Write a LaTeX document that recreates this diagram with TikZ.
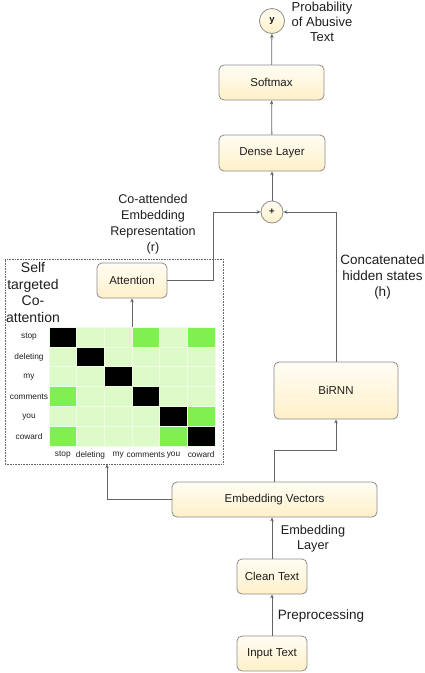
\documentclass[tikz,border=0pt]{standalone}
\usepackage{fontspec}
\setmainfont{Liberation Sans}
\usetikzlibrary{arrows.meta,shapes.geometric}
\definecolor{lc}{RGB}{100,100,100}
\definecolor{bd}{RGB}{140,140,140}
\definecolor{tx}{RGB}{30,30,30}
\definecolor{mK}{RGB}{0,0,0}
\definecolor{mL}{RGB}{221,250,200}
\definecolor{mB}{RGB}{128,240,80}
\definecolor{mG}{RGB}{238,252,228}
\definecolor{ctop}{RGB}{255,253,244}
\definecolor{cbot}{RGB}{255,240,200}
\tikzset{
  box/.style={draw=bd, line width=0.8pt, rounded corners=5pt, top color=ctop, bottom color=cbot,
    inner sep=0pt, text=tx, font=\fontsize{11.5}{13}\selectfont},
  circ/.style={circle, draw=bd, line width=0.8pt, top color=ctop, bottom color=cbot,
    inner sep=0pt, text=tx, font=\fontsize{9.5}{11}\selectfont\bfseries},
  arr/.style={draw=lc, line width=0.8pt, -{Stealth[length=4pt,width=3.5pt]}},
  lbl/.style={align=center, text=tx, inner sep=0pt},
  panelbox/.style={draw=lc, densely dotted, line width=0.6pt, inner sep=0pt},
  axlbl/.style={text=tx, inner sep=0pt, font=\fontsize{8.3}{10}\selectfont},
}
\begin{document}
\begin{tikzpicture}[x=1pt,y=-1pt]
\useasboundingbox (0,0) rectangle (425,673);
% panel
\node[panelbox, minimum width=218pt, minimum height=205pt] (panel) at (114,361.5) {};
% matrix
\foreach \r/\row in {0/{K,L,L,B,L,B},1/{L,K,L,L,L,L},2/{L,L,K,L,L,L},3/{B,L,L,K,L,L},4/{L,L,L,L,K,B},5/{B,L,L,L,B,K}}{
  \foreach \col [count=\ci from 0] in \row {
    \fill[fill=m\col, draw=mG, line width=0.5pt] (49+27.67*\ci,327+19.83*\r) rectangle ++(27.67,19.83);
  }
}
\foreach \t [count=\i from 0] in {stop,deleting,my,comments,you,coward}{
  \node[axlbl] (rl\i) at (29,337+20*\i) {\t};
  \node[axlbl] (cl\i) at (62.8+27.67*\i,455) {\t};
}
\coordinate (mtop) at (132,327);
% nodes
\node[circ, minimum size=25pt] (y) at (272,21) {y};
\node[box, minimum width=105pt, minimum height=35pt] (soft) at (271.5,82.5) {Softmax};
\node[box, minimum width=106pt, minimum height=36pt] (dense) at (272,153) {Dense Layer};
\node[circ, minimum size=22pt] (plus) at (272,212) {+};
\node[box, minimum width=70pt, minimum height=35pt] (attn) at (132,280.5) {Attention};
\node[box, minimum width=124pt, minimum height=57pt] (birnn) at (336,390.5) {BiRNN};
\node[box, minimum width=205pt, minimum height=35pt] (emb) at (274.5,499.5) {Embedding Vectors};
\node[box, minimum width=70pt, minimum height=35pt] (clean) at (272,576.5) {Clean Text};
\node[box, minimum width=70pt, minimum height=35pt] (inp) at (272,653.5) {Input Text};
% labels
\node[lbl, font=\fontsize{13}{15}\selectfont] (lprob) at (322,22) {Probability\\of Abusive\\Text};
\node[lbl, font=\fontsize{12.6}{16}\selectfont] (lco) at (153,224) {Co-attended\\Embedding\\Representation\\(r)};
\node[lbl, font=\fontsize{14}{16.5}\selectfont] (lself) at (33,292.5) {Self\\targeted\\Co-\\attention};
\node[lbl, font=\fontsize{13.5}{16}\selectfont] (lcat) at (382.5,277) {Concatenated\\hidden states\\(h)};
\node[lbl, font=\fontsize{12.7}{15}\selectfont] (lel) at (313,539) {Embedding\\Layer};
\node[lbl, font=\fontsize{13.5}{15}\selectfont] (lpre) at (321,616) {Preprocessing};
% connectors
\draw[arr] (inp) -- (clean);
\draw[arr] (clean) -- (clean.north |- emb.south);
\draw[arr] (emb.west) -| (panel.south -| 107,0);
\draw[arr] (emb.north) -- ++(0,-31) -| (birnn.south);
\draw[arr] (mtop) -- (attn.south);
\draw[arr] (attn.east) -- ++(46,0) |- (plus.west);
\draw[arr] (birnn.north) |- (plus.east);
\draw[arr] (plus) -- (dense);
\draw[arr] (dense) -- (soft);
\draw[arr] (soft) -- (y);
\end{tikzpicture}
\end{document}
